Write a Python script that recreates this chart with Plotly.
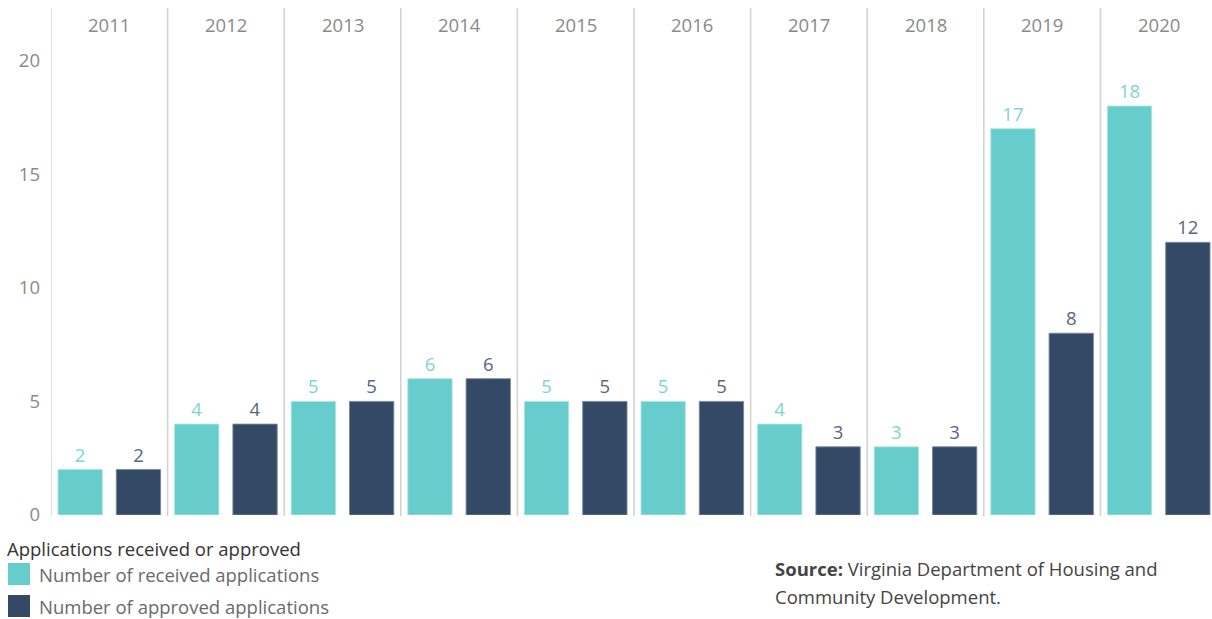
import plotly.graph_objects as go

# Affordable-housing applications by year
years = ["2011", "2012", "2013", "2014", "2015", "2016", "2017", "2018", "2019", "2020"]
received = [2, 4, 5, 6, 5, 5, 4, 3, 17, 18]
approved = [2, 4, 5, 6, 5, 5, 3, 3, 8, 12]
y_ticks = [0, 5, 10, 15, 20]

TEAL = "#66cdcc"
NAVY = "#344966"
FONT = "Open Sans, Lato, sans-serif"
FS = 18.5

W, H = 1212, 619
ML, MR, MT, MB = 51, 0, 8, 104
plot_w = W - ML - MR
plot_h = H - MT - MB
pane_px = 116.6  # width of one year pane


def px_x(px):
    return (px - ML) / plot_w


def px_y(py):
    return (H - MB - py) / plot_h


fig = go.Figure()
fig.add_trace(go.Bar(
    x=years, y=received, name="Number of received applications",
    marker=dict(color=TEAL, line=dict(color="rgba(170,230,228,0.9)", width=1)),
    text=[str(v) for v in received], textposition="outside",
    textfont=dict(color="#7dd5d3", size=FS, family=FONT),
    cliponaxis=False, showlegend=False,
))
fig.add_trace(go.Bar(
    x=years, y=approved, name="Number of approved applications",
    marker=dict(color=NAVY, line=dict(color="rgba(120,135,160,0.9)", width=1)),
    text=[str(v) for v in approved], textposition="outside",
    textfont=dict(color="#56667f", size=FS, family=FONT),
    cliponaxis=False, showlegend=False,
))

shapes = []
# pane separators (including the left edge of the first pane)
for i in range(len(years)):
    shapes.append(dict(type="line", xref="x", yref="paper",
                       x0=i - 0.5, x1=i - 0.5, y0=-0.002, y1=1,
                       line=dict(color="#d3d3d3", width=1.6)))

annotations = []
# year headers
for i, yr in enumerate(years):
    annotations.append(dict(x=i, xref="x", y=px_y(24), yref="paper",
                            text=yr, showarrow=False, yanchor="middle",
                            xanchor="center",
                            font=dict(color="#8a8a8a", size=FS, family=FONT)))

# legend block
annotations.append(dict(x=px_x(5), y=px_y(548), xref="paper", yref="paper",
                        text="Applications received or approved", showarrow=False,
                        xanchor="left", yanchor="middle",
                        font=dict(color="#333333", size=FS, family=FONT)))
legend_rows = [("Number of received applications", TEAL, 574),
               ("Number of approved applications", NAVY, 606)]
for label, col, cy in legend_rows:
    shapes.append(dict(type="rect", xref="paper", yref="paper",
                       x0=px_x(8), x1=px_x(30), y0=px_y(cy - 11), y1=px_y(cy + 11),
                       fillcolor=col, line=dict(width=0)))
    annotations.append(dict(x=px_x(37), y=px_y(cy), xref="paper", yref="paper",
                            text=label, showarrow=False, xanchor="left", yanchor="middle",
                            font=dict(color="#6a6a6a", size=FS, family=FONT)))

# source note
annotations.append(dict(x=px_x(773), y=px_y(568), xref="paper", yref="paper",
                        text="<b>Source:</b> Virginia Department of Housing and",
                        showarrow=False, xanchor="left", yanchor="middle",
                        font=dict(color="#444444", size=FS, family=FONT)))
annotations.append(dict(x=px_x(773), y=px_y(596), xref="paper", yref="paper",
                        text="Community Development.",
                        showarrow=False, xanchor="left", yanchor="middle",
                        font=dict(color="#444444", size=FS, family=FONT)))

fig.update_layout(
    width=W, height=H,
    margin=dict(l=ML, r=MR, t=MT, b=MB, pad=0),
    paper_bgcolor="white", plot_bgcolor="white",
    barmode="group", bargap=0.0, bargroupgap=0.24,
    shapes=shapes, annotations=annotations,
    xaxis=dict(type="category", range=[-0.5, -0.5 + plot_w / pane_px],
               showticklabels=False,
               showgrid=False, zeroline=False, showline=False, ticks=""),
    yaxis=dict(range=[0, 507 / 22.72], tickvals=y_ticks,
               ticktext=[str(v) for v in y_ticks],
               showgrid=False, zeroline=False, showline=False, ticks="",
               ticklabelstandoff=10,
               tickfont=dict(color="#8a8a8a", size=FS, family=FONT)),
    font=dict(family=FONT),
)

fig.write_html("out.html")
